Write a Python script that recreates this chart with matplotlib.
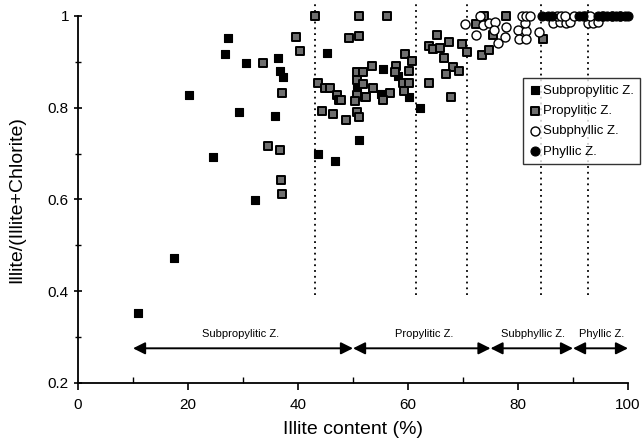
import matplotlib
matplotlib.use("Agg")
import matplotlib.pyplot as plt
from matplotlib.ticker import MultipleLocator, FixedFormatter, FixedLocator

plt.rcParams["font.family"] = ["Liberation Sans", "DejaVu Sans"]

# values (illite content %, illite/(illite+chlorite))
subprop_x = [11.0, 17.5, 27.3, 26.7, 30.5, 20.2, 29.3, 24.6, 36.4, 36.7, 37.3, 35.8,
             43.6, 46.8, 32.1, 45.3, 51.0, 50.8, 55.5, 58.2, 55.1, 60.1, 62.2]
subprop_y = [0.352, 0.472, 0.953, 0.917, 0.897, 0.828, 0.791, 0.693, 0.908, 0.881, 0.868, 0.783,
             0.699, 0.684, 0.598, 0.919, 0.730, 0.842, 0.885, 0.870, 0.830, 0.824, 0.799]

prop_x = [33.6, 39.6, 40.4, 43.0, 51.0, 49.3, 51.0, 37.1, 34.5, 36.8, 36.9, 37.1,
          43.7, 44.9, 45.8, 47.0, 47.5, 44.4, 46.4, 48.8, 50.8, 51.8, 50.8, 51.9,
          50.7, 50.4, 52.2, 50.8, 51.1, 56.1, 59.5, 60.8, 53.5, 57.9, 57.6, 60.1,
          59.0, 60.1, 53.7, 59.2, 56.8, 55.4, 52.4, 47.8, 63.9, 65.2, 63.8, 64.5,
          65.8, 67.4, 66.6, 68.1, 66.9, 69.2, 67.8, 69.8, 70.7, 73.8, 72.4, 75.4,
          77.8, 73.5, 74.8, 84.6]
prop_y = [0.898, 0.955, 0.924, 1.0, 1.0, 0.953, 0.956, 0.832, 0.717, 0.708, 0.642, 0.613,
          0.855, 0.842, 0.844, 0.828, 0.817, 0.793, 0.786, 0.773, 0.879, 0.879, 0.860, 0.852,
          0.828, 0.815, 0.823, 0.791, 0.779, 1.0, 0.918, 0.901, 0.892, 0.890, 0.879, 0.881,
          0.855, 0.855, 0.842, 0.836, 0.833, 0.816, 0.824, 0.817, 0.853, 0.959, 0.935, 0.927,
          0.931, 0.944, 0.908, 0.888, 0.874, 0.881, 0.824, 0.939, 0.922, 1.0, 0.983, 0.959,
          1.0, 0.916, 0.925, 0.950]

subphy_x = [70.4, 72.3, 73.0, 73.6, 74.8, 75.8, 76.3, 77.9, 77.6, 75.6, 80.0, 81.5,
            81.3, 80.2, 81.5, 80.7, 81.5, 82.1, 83.8, 86.4, 87.6, 88.8, 89.5, 92.7,
            93.6, 94.6, 87.0, 87.9, 88.5, 90.1, 92.2, 93.1, 95.5, 97.0, 98.5]
subphy_y = [0.983, 0.958, 1.0, 0.980, 0.985, 0.986, 0.942, 0.977, 0.955, 0.970, 0.970, 0.967,
            0.984, 0.949, 0.949, 1.0, 1.0, 1.0, 0.966, 0.985, 0.987, 0.985, 0.987, 0.985,
            0.985, 0.987, 1.0, 1.0, 1.0, 1.0, 1.0, 1.0, 1.0, 1.0, 1.0]

phy_x = [84.3, 85.5, 86.2, 91.0, 91.8, 94.5, 95.3, 96.2, 97.0, 97.8, 98.6, 99.4, 100.0]
phy_y = [1.0] * len(phy_x)

zone_bounds = [43.0, 61.5, 70.8, 84.2, 92.8]
zone_names = ["Subpropylitic Z.", "Propylitic Z.", "Subphyllic Z.", "Phyllic Z."]
zone_start = [10.0, 50.0, 75.0, 90.0]
zone_end = [50.0, 75.0, 90.0, 100.0]
zone_label_x = [29.5, 63.0, 82.7, 95.2]

fig = plt.figure(figsize=(6.43, 4.48), dpi=100)
ax = fig.add_axes([0.1213, 0.1451, 0.8554, 0.8192])

# dotted zone boundaries, running a little above the top of the axis
for xb in zone_bounds:
    ax.plot([xb, xb], [0.392, 1.028], color="k", ls=(0, (1, 2.2)), lw=1.3, clip_on=False, zorder=1)

ax.scatter(subprop_x, subprop_y, marker="s", s=36, c="k", edgecolors="k", lw=0.8,
           label="Subpropylitic Z.", zorder=3, clip_on=False)
ax.scatter(prop_x, prop_y, marker="s", s=36, c="#6e6e6e", edgecolors="k", lw=1.4,
           label="Propylitic Z.", zorder=3, clip_on=False)
ax.scatter(subphy_x, subphy_y, marker="o", s=42, c="white", edgecolors="k", lw=1.0,
           label="Subphyllic Z.", zorder=3, clip_on=False)
ax.scatter(phy_x, phy_y, marker="o", s=42, c="k", edgecolors="k", lw=0.8,
           label="Phyllic Z.", zorder=4, clip_on=False)

# zone ranges as double-headed arrows
for x0, x1, xl, name in zip(zone_start, zone_end, zone_label_x, zone_names):
    ax.annotate("", xy=(x1, 0.2756), xytext=(x0, 0.2756),
                arrowprops=dict(arrowstyle="<|-|>", color="k", lw=1.4,
                                mutation_scale=18, shrinkA=0, shrinkB=0), annotation_clip=False)
    ax.text(xl, 0.296, name, ha="center", va="bottom", fontsize=8)

ax.set_xlim(0, 100)
ax.set_ylim(0.2, 1.0)
for side in ("top", "right"):
    ax.spines[side].set_visible(False)
ax.spines["left"].set_linewidth(1.3)
ax.spines["bottom"].set_linewidth(1.3)

ax.xaxis.set_major_locator(MultipleLocator(20))
ax.xaxis.set_minor_locator(MultipleLocator(10))
ax.yaxis.set_major_locator(FixedLocator([0.2, 0.4, 0.6, 0.8, 1.0]))
ax.yaxis.set_major_formatter(FixedFormatter(["0.2", "0.4", "0.6", "0.8", "1"]))
ax.yaxis.set_minor_locator(MultipleLocator(0.1))
ax.tick_params(axis="x", which="major", direction="out", length=5, width=1.2, labelsize=11, pad=6)
ax.tick_params(axis="x", which="minor", direction="in", length=4, width=1.0)
ax.tick_params(axis="y", which="major", direction="inout", length=6, width=1.2, labelsize=11)
ax.tick_params(axis="y", which="minor", direction="inout", length=5, width=1.0)

ax.set_xlabel("Illite content (%)", fontsize=14, labelpad=6)
ax.set_ylabel("Illite/(Illite+Chlorite)", fontsize=14, labelpad=16)

leg = ax.legend(loc="upper left", bbox_to_anchor=(0.809, 0.83), fontsize=9.5, frameon=True,
                fancybox=False, edgecolor="k", handletextpad=0.05, borderpad=0.45,
                labelspacing=0.62, handlelength=1.0, borderaxespad=0)
leg.get_frame().set_linewidth(1.0)

fig.savefig("out.png", dpi=100)
